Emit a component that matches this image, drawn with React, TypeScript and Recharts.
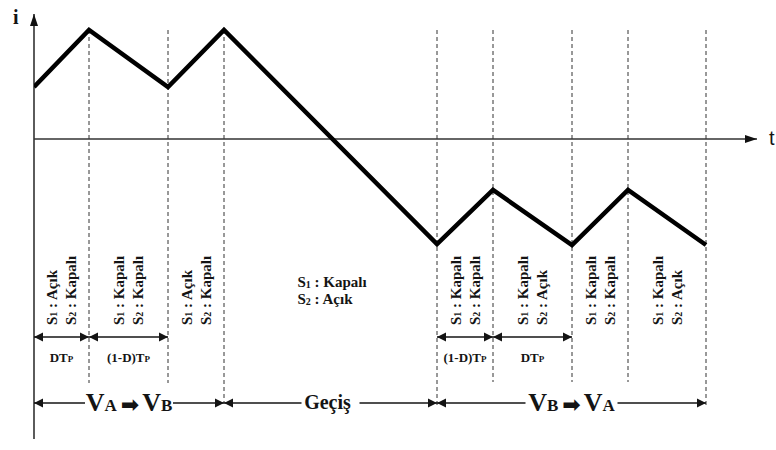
import React from 'react';
import { LineChart, Line, XAxis, YAxis, ReferenceLine, ReferenceDot } from 'recharts';

// time (arbitrary units) and inductor current at each corner of the waveform
const times = [0, 0.55, 1.34, 1.9, 4.03, 4.59, 5.38, 5.94, 6.72];
const current = [0.52, 1.09, 0.52, 1.09, -1.05, -0.51, -1.06, -0.51, -1.06];

// switch state in each interval between two corners
const s1States = ['Açık', 'Kapalı', 'Açık', 'Kapalı', 'Kapalı', 'Kapalı', 'Kapalı', 'Kapalı'];
const s2States = ['Kapalı', 'Kapalı', 'Kapalı', 'Açık', 'Kapalı', 'Açık', 'Kapalı', 'Açık'];

// period markers: [start index, end index, main text, subscript]
const periodSpans: [number, number, string, string][] = [
  [0, 1, 'DT', 'P'],
  [1, 2, '(1-D)T', 'P'],
  [4, 5, '(1-D)T', 'P'],
  [5, 6, 'DT', 'P'],
];

// transition markers: [start index, end index, label kind]
const modeSpans: [number, number, string][] = [
  [0, 3, 'AB'],
  [3, 4, 'Geçiş'],
  [4, 8, 'BA'],
];

const data = times.map((t, k) => ({ t, i: current[k] }));

const INK = '#141414';
const SERIF = 'Liberation Serif';
const GAPS = [88, 58, 92];

function head(x: number, y: number, ang: number, len = 9, half = 4.5) {
  const c = Math.cos(ang);
  const s = Math.sin(ang);
  const bx = x - c * len;
  const by = y - s * len;
  return `${x},${y} ${bx - s * half},${by + c * half} ${bx + s * half},${by - c * half}`;
}

const axisShape = (label: string, dx: number, dy: number, font: string, weight: number) => (p: any) => {
  const { x1, y1, x2, y2 } = p;
  const ang = Math.atan2(y2 - y1, x2 - x1);
  return (
    <g>
      <line x1={x1} y1={y1} x2={x2} y2={y2} stroke="#333" strokeWidth={1.6} />
      <polygon points={head(x2, y2, ang, 12, 4)} fill="#111" />
      <text x={x2 + dx} y={y2 + dy} fontFamily={font} fontWeight={weight} fontSize={20} fill={INK}>
        {label}
      </text>
    </g>
  );
};

const spanShape = (render: (mx: number, my: number) => React.ReactNode, gap = 0) => (p: any) => {
  const { x1, y1, x2, y2 } = p;
  const ang = Math.atan2(y2 - y1, x2 - x1);
  const mx = (x1 + x2) / 2;
  const my = (y1 + y2) / 2;
  return (
    <g>
      <line x1={x1} y1={y1} x2={x2} y2={y2} stroke={INK} strokeWidth={1.4} />
      {gap > 0 && <rect x={mx - gap / 2} y={my - 6} width={gap} height={12} fill="#fff" />}
      <polygon points={head(x2, y2, ang)} fill={INK} />
      <polygon points={head(x1, y1, ang + Math.PI)} fill={INK} />
      {render(mx, my)}
    </g>
  );
};

const periodLabel = (main: string, sub: string) => (mx: number, my: number) => (
  <text x={mx} y={my + 25} textAnchor="middle" fontFamily={SERIF} fontWeight={700} fontSize={13} fill={INK}>
    {main}
    <tspan fontSize={9}>{sub}</tspan>
  </text>
);

const modeLabel = (kind: string) => (mx: number, my: number) => {
  if (kind === 'Geçiş') {
    return (
      <text x={mx - 3} y={my + 6} textAnchor="middle" fontFamily={SERIF} fontWeight={700} fontSize={20} fill={INK}>
        Geçiş
      </text>
    );
  }
  return (
    <text x={mx} y={my + 8} textAnchor="middle" fontFamily={SERIF} fontWeight={700} fontSize={26} fill={INK}>
      V<tspan fontSize={17}>{kind[0]}</tspan>
      <tspan fontFamily="DejaVu Sans" fontSize={22} dx={4} dy={1}>➡</tspan>
      <tspan dx={3} dy={-1}>V</tspan>
      <tspan fontSize={17}>{kind[1]}</tspan>
    </text>
  );
};

const stateText = (n: string, state: string, props: any) => (
  <text {...props} fontFamily={SERIF} fontWeight={700} fontSize={15} fill={INK}>
    S<tspan fontSize={10} dy={1}>{n}</tspan>
    <tspan dy={-1}>{' : ' + state}</tspan>
  </text>
);

const verticalStates = (k: number) => (p: any) => {
  const { cx, cy } = p;
  return (
    <g>
      {stateText('1', s1States[k], {
        x: cx - 9.5,
        y: cy,
        transform: `rotate(-90 ${cx - 9.5} ${cy})`,
        dominantBaseline: 'central',
      })}
      {stateText('2', s2States[k], {
        x: cx + 9.5,
        y: cy,
        transform: `rotate(-90 ${cx + 9.5} ${cy})`,
        dominantBaseline: 'central',
      })}
    </g>
  );
};

const flatStates = (k: number) => (p: any) => {
  const { cx, cy } = p;
  return (
    <g>
      {stateText('1', s1States[k], { x: cx - 33, y: cy })}
      {stateText('2', s2States[k], { x: cx - 33, y: cy + 17 })}
    </g>
  );
};

// lower end of each dashed guide (index 1..8)
const guideEnds = [-2.44, -2.44, -2.64, -2.66, -2.43, -2.43, -2.43, -2.66];
const GUIDE_TOP = 1.09;
const STATE_BASE = -1.86;
const PERIOD_Y = -1.98;
const MODE_Y = -2.64;

export default function App() {
  return (
    <div style={{ position: 'absolute', left: 0, top: 0, width: 776, height: 450, background: '#fff' }}>
      <LineChart width={776} height={450} data={data} margin={{ top: 14, right: 19, bottom: 11, left: 34 }}>
        <XAxis dataKey="t" type="number" domain={[0, 7.23]} allowDataOverflow hide />
        <YAxis type="number" domain={[-3.0, 1.25]} allowDataOverflow hide />

        {times.slice(1).map((t, k) => (
          <ReferenceLine
            key={`g${k}`}
            segment={[
              { x: t, y: GUIDE_TOP },
              { x: t, y: guideEnds[k] },
            ]}
            stroke="#333"
            strokeWidth={1}
            strokeDasharray="4 3"
          />
        ))}

        <ReferenceLine
          segment={[
            { x: 0, y: -3.0 },
            { x: 0, y: 1.25 },
          ]}
          shape={axisShape('i', -21, 10, SERIF, 700)}
        />
        <ReferenceLine
          segment={[
            { x: 0, y: 0 },
            { x: 7.23, y: 0 },
          ]}
          shape={axisShape('t', 12, 6, 'Liberation Sans', 400)}
        />

        {s1States.map((_, k) =>
          k === 3 ? (
            <ReferenceDot
              key={`s${k}`}
              x={(times[k] + times[k + 1]) / 2}
              y={-1.48}
              r={0}
              shape={flatStates(k)}
            />
          ) : (
            <ReferenceDot
              key={`s${k}`}
              x={(times[k] + times[k + 1]) / 2}
              y={STATE_BASE}
              r={0}
              shape={verticalStates(k)}
            />
          )
        )}

        {periodSpans.map(([a, b, main, sub], k) => (
          <ReferenceLine
            key={`p${k}`}
            segment={[
              { x: times[a], y: PERIOD_Y },
              { x: times[b], y: PERIOD_Y },
            ]}
            shape={spanShape(periodLabel(main, sub))}
          />
        ))}

        {modeSpans.map(([a, b, kind], k) => (
          <ReferenceLine
            key={`m${k}`}
            segment={[
              { x: times[a], y: MODE_Y },
              { x: times[b], y: MODE_Y },
            ]}
            shape={spanShape(modeLabel(kind), GAPS[k])}
          />
        ))}

        <Line
          type="linear"
          dataKey="i"
          stroke="#000"
          strokeWidth={4.5}
          dot={false}
          isAnimationActive={false}
        />
      </LineChart>
    </div>
  );
}
